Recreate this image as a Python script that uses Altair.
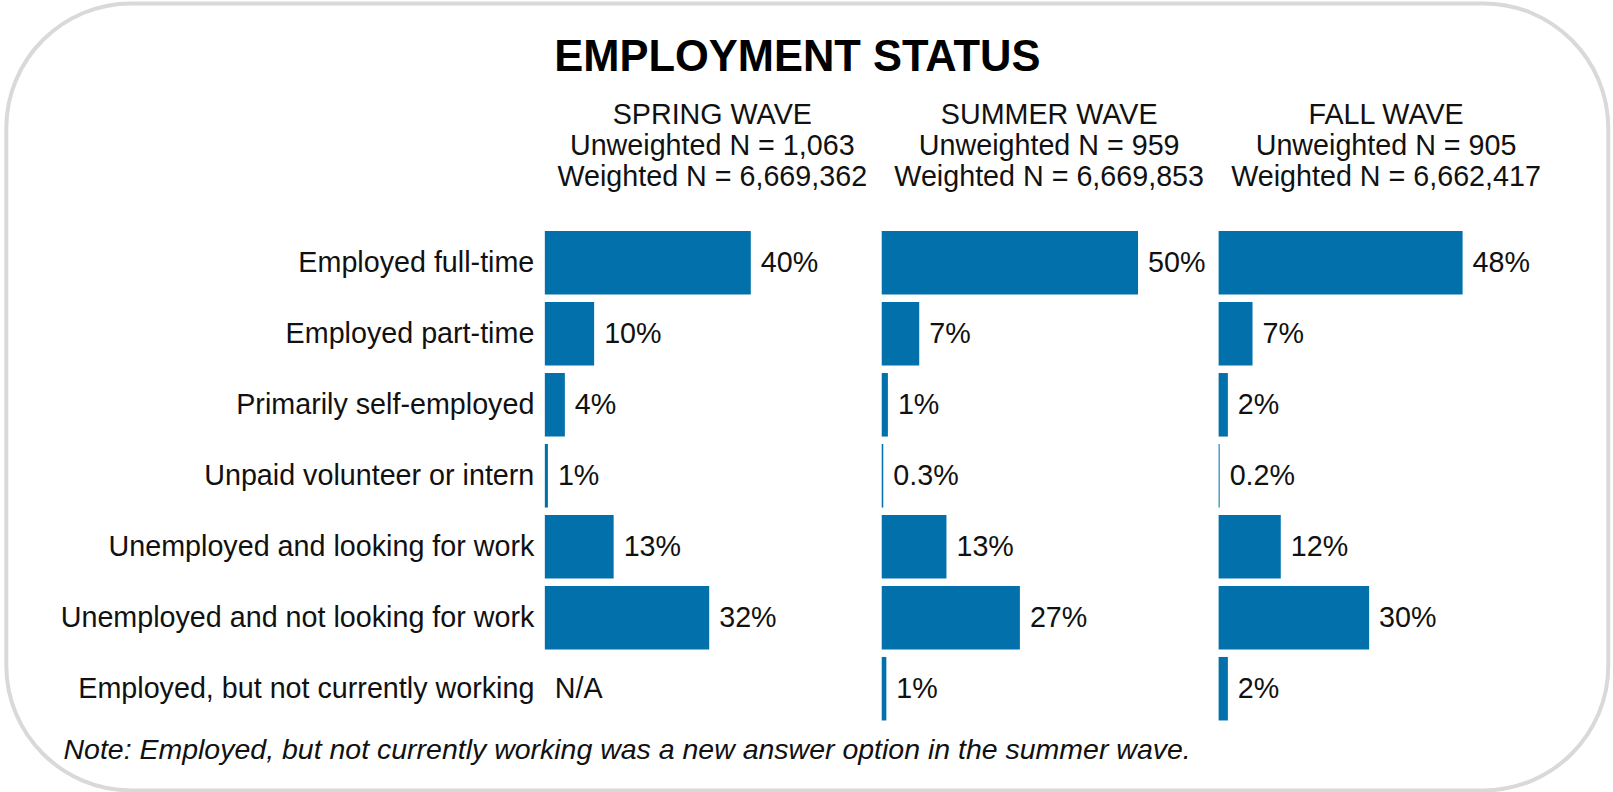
import altair as alt
import pandas as pd

FONT = "Liberation Sans"
BLUE = "#0271ab"
INK = "#111111"
FS = 28.7

categories = [
    "Employed full-time",
    "Employed part-time",
    "Primarily self-employed",
    "Unpaid volunteer or intern",
    "Unemployed and looking for work",
    "Unemployed and not looking for work",
    "Employed, but not currently working",
]
waves = ["SPRING WAVE", "SUMMER WAVE", "FALL WAVE"]
unweighted_n = ["1,063", "959", "905"]
weighted_n = ["6,669,362", "6,669,853", "6,662,417"]

spring_values = [40.1, 9.6, 3.9, 0.6, 13.4, 32.0, None]
summer_values = [49.9, 7.3, 1.2, 0.3, 12.6, 26.9, 0.9]
fall_values = [47.5, 6.6, 1.8, 0.2, 12.1, 29.3, 1.8]

spring_labels = ["40%", "10%", "4%", "1%", "13%", "32%", "N/A"]
summer_labels = ["50%", "7%", "1%", "0.3%", "13%", "27%", "1%"]
fall_labels = ["48%", "7%", "2%", "0.2%", "12%", "30%", "2%"]

title_text = "EMPLOYMENT STATUS"
note_text = "Note: Employed, but not currently working was a new answer option in the summer wave."

headers = [f"{w}|Unweighted N = {u}|Weighted N = {wt}"
           for w, u, wt in zip(waves, unweighted_n, weighted_n)]
all_values = [spring_values, summer_values, fall_values]
all_labels = [spring_labels, summer_labels, fall_labels]

rows = []
for i, h in enumerate(headers):
    for j, c in enumerate(categories):
        rows.append({
            "wave": h,
            "category": c,
            "value": all_values[i][j],
            "label": all_labels[i][j],
            "first": bool(i == 0 and j == 0),
        })
df = pd.DataFrame(rows)

xscale = alt.Scale(domain=[0, 65.2], nice=False, zero=True)
yscale = alt.Scale(paddingInner=0.105, paddingOuter=0.0525)
yaxis = alt.Axis(labelFontSize=FS, labelFont=FONT, labelColor=INK, ticks=False,
                 domain=False, labelPadding=11, labelLimit=800, title=None)

bars = alt.Chart().mark_bar(color=BLUE).encode(
    x=alt.X("value:Q", scale=xscale, axis=None),
    y=alt.Y("category:N", sort=categories, scale=yscale, axis=yaxis),
)

texts = alt.Chart().transform_calculate(
    xpos="isValid(datum.value) ? datum.value : 0"
).mark_text(align="left", baseline="middle", dx=10, font=FONT, fontSize=FS,
            color=INK).encode(
    x=alt.X("xpos:Q", scale=xscale, axis=None),
    y=alt.Y("category:N", sort=categories, scale=yscale, axis=yaxis),
    text="label:N",
)

border = alt.Chart().transform_filter("datum.first").mark_rect(
    filled=False, stroke="#d9d9d9", strokeWidth=4, cornerRadius=125
).encode(
    x=alt.value(-538.7), x2=alt.value(1063.8),
    y=alt.value(-224), y2=alt.value(563.2),
)

note = alt.Chart().transform_filter("datum.first").mark_text(
    align="left", baseline="middle", font=FONT, fontSize=28.5,
    fontStyle="italic", color=INK
).encode(
    x=alt.value(-481.5), y=alt.value(522.5), text=alt.value(note_text),
)

layered = alt.layer(bars, texts, border, note, data=df).properties(
    width=335, height=497
)

chart = layered.facet(
    column=alt.Column(
        "wave:N", sort=headers, title=None,
        header=alt.Header(labelExpr="split(datum.label, '|')", labelFontSize=FS,
                          labelFont=FONT, labelColor=INK, labelLineHeight=31,
                          labelPadding=36),
    )
).properties(
    bounds="flush",
    spacing=2,
    title=alt.TitleParams(text=title_text, font=FONT, fontSize=43.5,
                          fontWeight="bold", color="#000000", anchor="middle",
                          frame="bounds", offset=-79, dx=-10),
    padding={"left": 4, "top": 1.3, "right": 2.5, "bottom": 0},
    background="white",
).configure_view(stroke=None)

chart.save("out.html", embed_options={"renderer": "svg", "actions": False})
